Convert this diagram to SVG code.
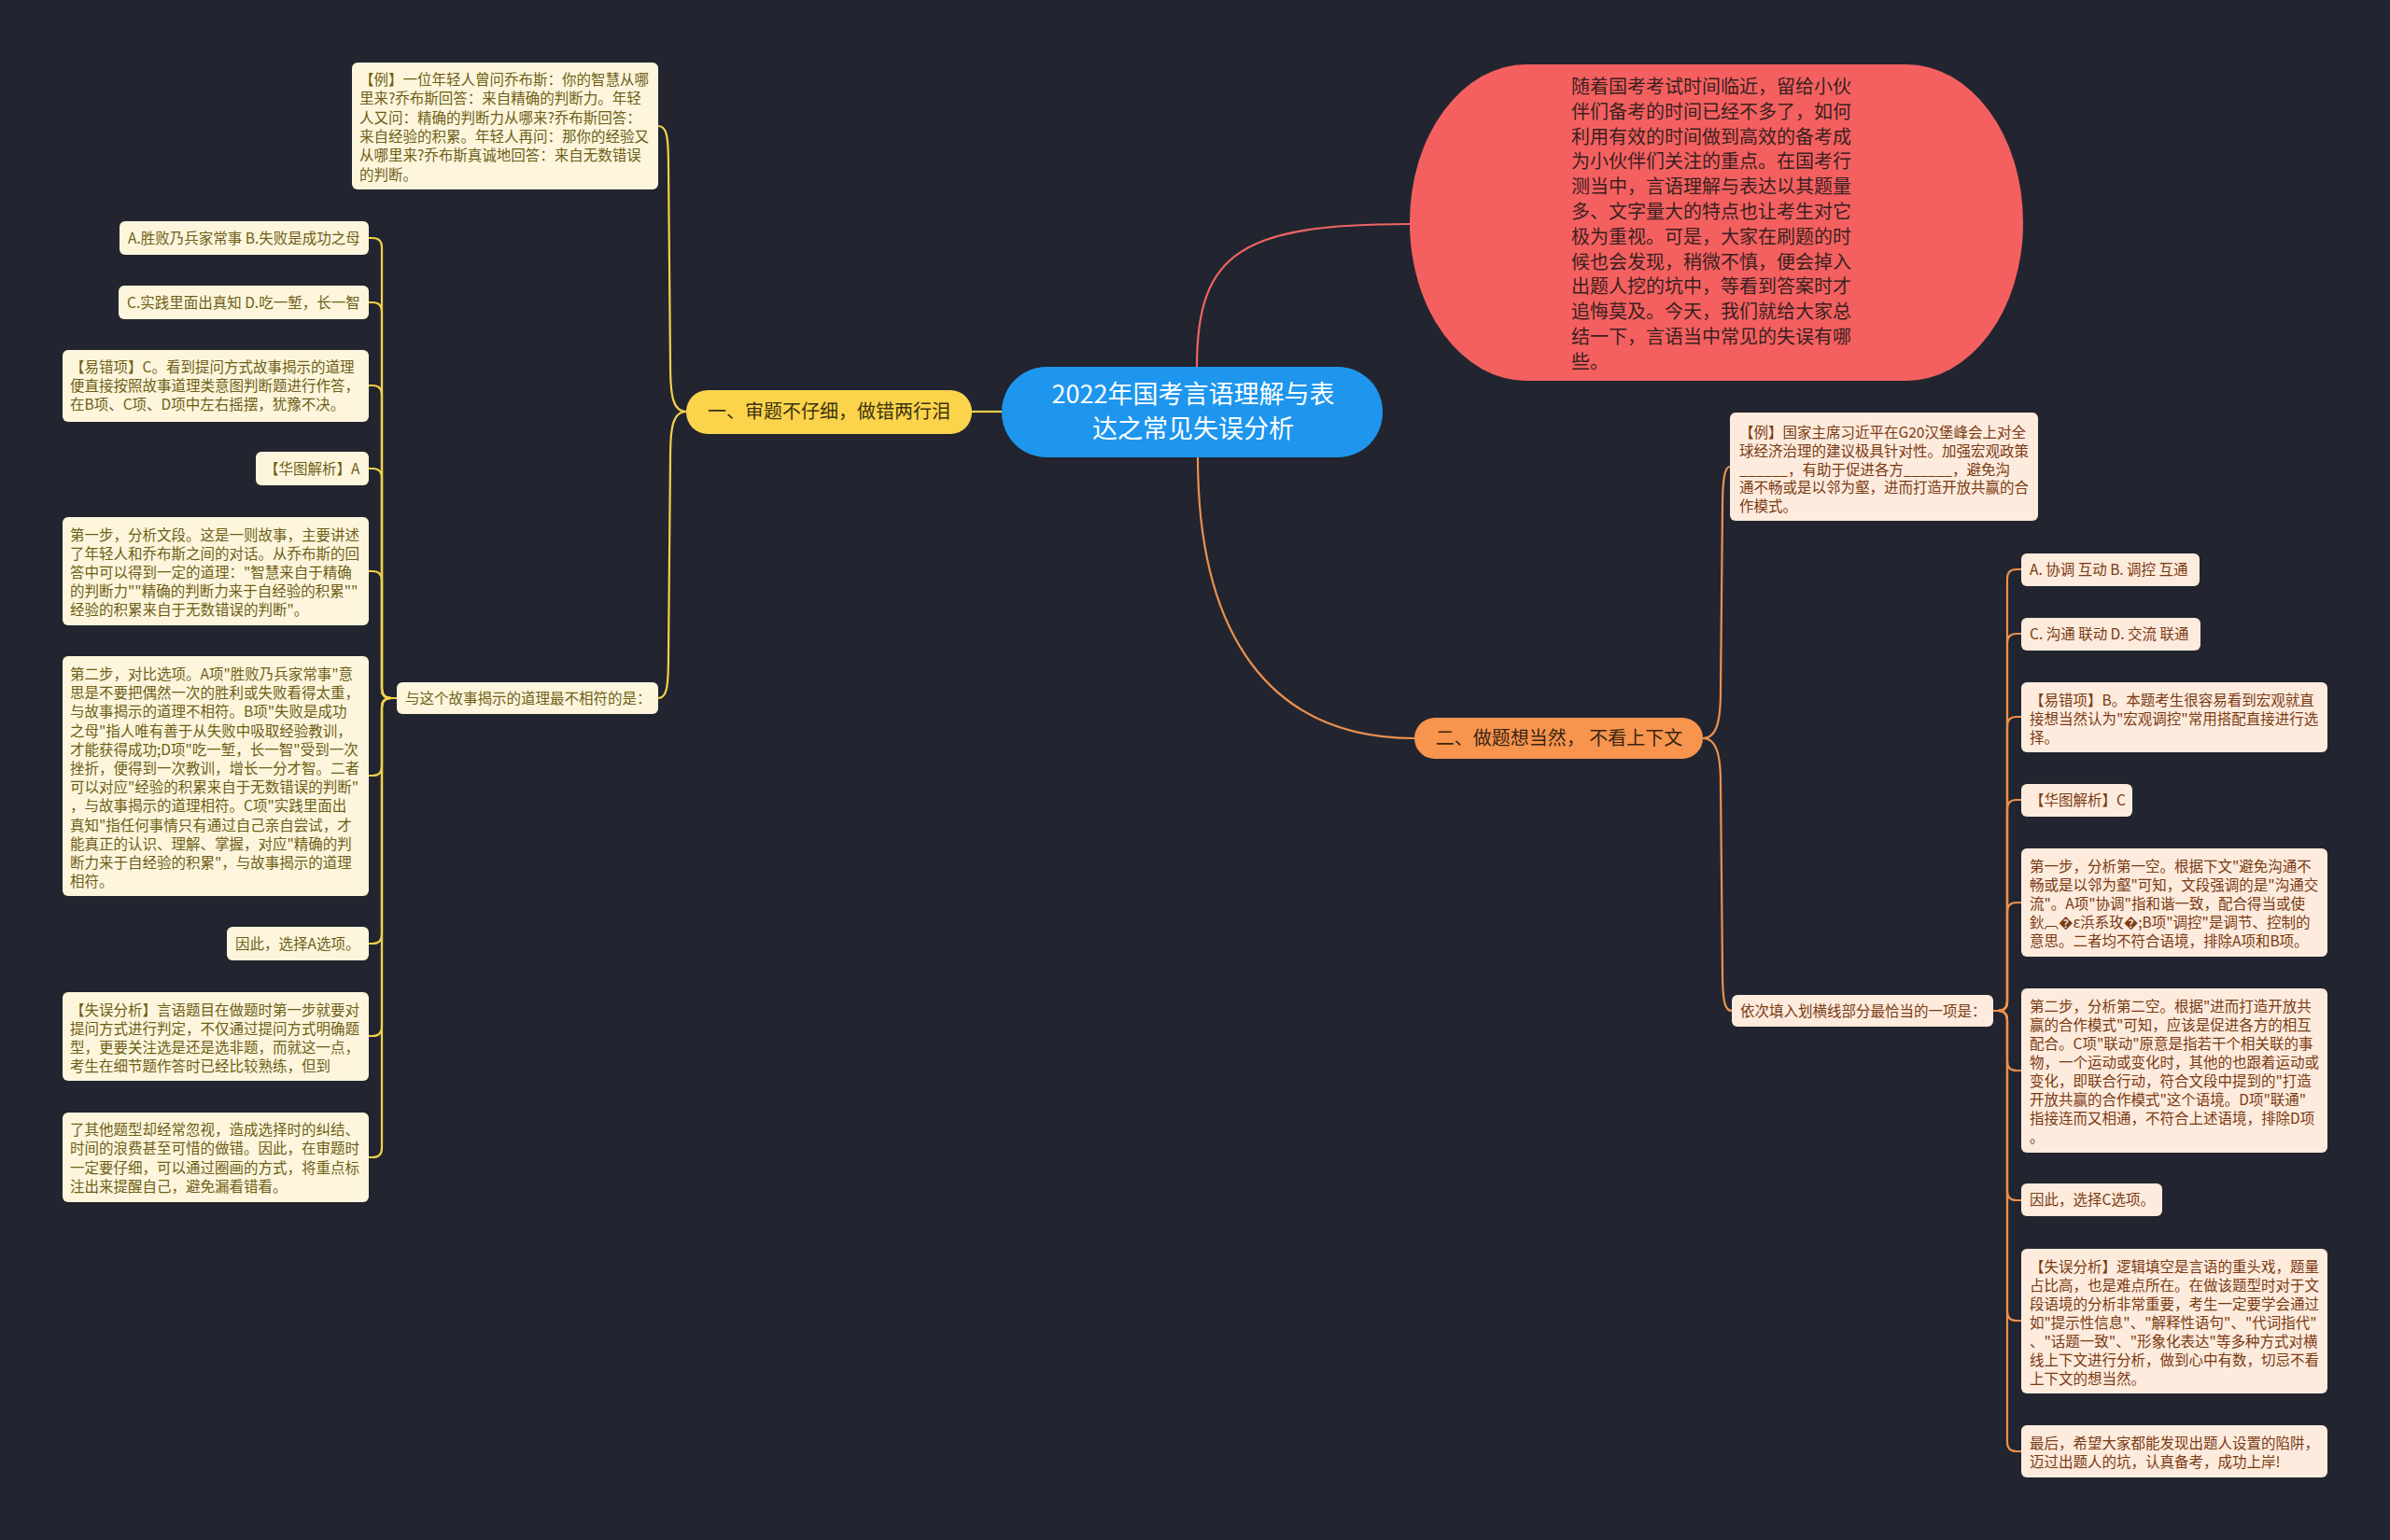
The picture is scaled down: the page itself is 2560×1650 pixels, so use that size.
<svg xmlns="http://www.w3.org/2000/svg" width="2560" height="1650" viewBox="0 0 2560 1650">
<style>
text{font-family:"Noto Sans CJK SC","Noto Sans",sans-serif}
.lb{fill:#fdf6dd}
.rb{fill:#fdebdd}
.lt{font-size:15.5px;fill:#6f5e16}
.rt{font-size:15.5px;fill:#7b3a12}
.yl{fill:none;stroke:#f3d04a;stroke-width:2.2}
.ol{fill:none;stroke:#ec904f;stroke-width:2.2}
.rl{fill:none;stroke:#f06464;stroke-width:2.2}
</style>
<rect width="2560" height="1650" fill="#22252f"/>
<g id="connectors">
<path class="rl" d="M1282 393 C1282 270 1330 240 1510 240"/>
<path class="ol" d="M1283 490 C1283 680 1360 791 1515 791"/>
<path class="yl" d="M1073 441 H1041"/>
<path class="yl" d="M735 441 C721 441 718 425 718 390 L716 180 C716 145 714 135 705 135"/>
<path class="yl" d="M735 441 C721 441 718 457 718 490 L716 700 C716 738 714 748 705 748"/>
<path class="ol" d="M1824 791 C1838 791 1843 775 1843 740 L1845 545 C1845 510 1848 500 1853 500"/>
<path class="ol" d="M1824 791 C1838 791 1843 807 1843 840 L1845 1040 C1845 1075 1848 1083 1855 1083"/>
<path class="yl" d="M425 748 H419 Q409 748 409 738 V265 Q409 255 399 255 H395"/>
<path class="yl" d="M425 748 H419 Q409 748 409 738 V334 Q409 324 399 324 H395"/>
<path class="yl" d="M425 748 H419 Q409 748 409 738 V423 Q409 413 399 413 H395"/>
<path class="yl" d="M425 748 H419 Q409 748 409 738 V512 Q409 502 399 502 H395"/>
<path class="yl" d="M425 748 H419 Q409 748 409 738 V622 Q409 612 399 612 H395"/>
<path class="yl" d="M425 748 H419 Q409 748 409 758 V821 Q409 831 399 831 H395"/>
<path class="yl" d="M425 748 H419 Q409 748 409 758 V1001 Q409 1011 399 1011 H395"/>
<path class="yl" d="M425 748 H419 Q409 748 409 758 V1100 Q409 1110 399 1110 H395"/>
<path class="yl" d="M425 748 H419 Q409 748 409 758 V1230 Q409 1240 399 1240 H395"/>
<path class="ol" d="M2135 1083 H2140 Q2150 1083 2150 1073 V620 Q2150 610 2160 610 H2165"/>
<path class="ol" d="M2135 1083 H2140 Q2150 1083 2150 1073 V689 Q2150 679 2160 679 H2165"/>
<path class="ol" d="M2135 1083 H2140 Q2150 1083 2150 1073 V778 Q2150 768 2160 768 H2165"/>
<path class="ol" d="M2135 1083 H2140 Q2150 1083 2150 1073 V867 Q2150 857 2160 857 H2165"/>
<path class="ol" d="M2135 1083 H2140 Q2150 1083 2150 1073 V977 Q2150 967 2160 967 H2165"/>
<path class="ol" d="M2135 1083 H2140 Q2150 1083 2150 1093 V1137 Q2150 1147 2160 1147 H2165"/>
<path class="ol" d="M2135 1083 H2140 Q2150 1083 2150 1093 V1276 Q2150 1286 2160 1286 H2165"/>
<path class="ol" d="M2135 1083 H2140 Q2150 1083 2150 1093 V1405 Q2150 1415 2160 1415 H2165"/>
<path class="ol" d="M2135 1083 H2140 Q2150 1083 2150 1093 V1545 Q2150 1555 2160 1555 H2165"/>
</g>
<g id="root">
<rect x="1073" y="393" width="408" height="97" rx="48" fill="#1e96ee"/>
<text x="1278" y="432" font-size="27" fill="#ffffff" text-anchor="middle">2022年国考言语理解与表</text>
<text x="1278" y="469" font-size="27" fill="#ffffff" text-anchor="middle">达之常见失误分析</text>
</g>
<g id="intro">
<rect x="1510" y="69" width="657" height="339" rx="125" ry="169" fill="#f46060"/>
<text font-size="20" fill="#3a2020"><tspan x="1683" y="100">随着国考考试时间临近，留给小伙</tspan><tspan x="1683" dy="26.8">伴们备考的时间已经不多了，如何</tspan><tspan x="1683" dy="26.8">利用有效的时间做到高效的备考成</tspan><tspan x="1683" dy="26.8">为小伙伴们关注的重点。在国考行</tspan><tspan x="1683" dy="26.8">测当中，言语理解与表达以其题量</tspan><tspan x="1683" dy="26.8">多、文字量大的特点也让考生对它</tspan><tspan x="1683" dy="26.8">极为重视。可是，大家在刷题的时</tspan><tspan x="1683" dy="26.8">候也会发现，稍微不慎，便会掉入</tspan><tspan x="1683" dy="26.8">出题人挖的坑中，等看到答案时才</tspan><tspan x="1683" dy="26.8">追悔莫及。今天，我们就给大家总</tspan><tspan x="1683" dy="26.8">结一下，言语当中常见的失误有哪</tspan><tspan x="1683" dy="26.8">些。</tspan></text>
</g>
<g id="branch1">
<rect x="735" y="418" width="306" height="47" rx="23" fill="#fbd44b"/>
<text x="888" y="448" font-size="20" fill="#3b3210" text-anchor="middle">一、审题不仔细，做错两行泪</text>
</g>
<g id="branch2">
<rect x="1515" y="769" width="309" height="44" rx="22" fill="#f7944e"/>
<text x="1670" y="798" font-size="20" fill="#3a2410" text-anchor="middle">二、做题想当然， 不看上下文</text>
</g>
<g id="l-example">
<rect class="lb" x="377" y="67" width="328" height="136" rx="6"/>
<text class="lt"><tspan x="385" y="91">【例】一位年轻人曾问乔布斯：你的智慧从哪</tspan><tspan x="385" dy="20.3">里来?乔布斯回答：来自精确的判断力。年轻</tspan><tspan x="385" dy="20.3">人又问：精确的判断力从哪来?乔布斯回答：</tspan><tspan x="385" dy="20.3">来自经验的积累。年轻人再问：那你的经验又</tspan><tspan x="385" dy="20.3">从哪里来?乔布斯真诚地回答：来自无数错误</tspan><tspan x="385" dy="20.3">的判断。</tspan></text>
</g>
<g id="l-question">
<rect class="lb" x="425" y="731" width="280" height="34" rx="6"/>
<text class="lt" x="434" y="753.5">与这个故事揭示的道理最不相符的是：</text>
</g>
<g id="l1">
<rect class="lb" x="128" y="237" width="267" height="36" rx="6"/>
<text class="lt" x="137" y="260.5">A.胜败乃兵家常事 B.失败是成功之母</text>
</g>
<g id="l2">
<rect class="lb" x="127" y="306" width="268" height="36" rx="6"/>
<text class="lt" x="136" y="329.5">C.实践里面出真知 D.吃一堑，长一智</text>
</g>
<g id="l3">
<rect class="lb" x="67" y="375" width="328" height="77" rx="6"/>
<text class="lt"><tspan x="75" y="399">【易错项】C。看到提问方式故事揭示的道理</tspan><tspan x="75" dy="20">便直接按照故事道理类意图判断题进行作答，</tspan><tspan x="75" dy="20">在B项、C项、D项中左右摇摆，犹豫不决。</tspan></text>
</g>
<g id="l4">
<rect class="lb" x="274" y="484" width="121" height="36" rx="6"/>
<text class="lt" x="283" y="507.5">【华图解析】A</text>
</g>
<g id="l5">
<rect class="lb" x="67" y="554" width="328" height="116" rx="6"/>
<text class="lt"><tspan x="75" y="579">第一步，分析文段。这是一则故事，主要讲述</tspan><tspan x="75" dy="20">了年轻人和乔布斯之间的对话。从乔布斯的回</tspan><tspan x="75" dy="20">答中可以得到一定的道理："智慧来自于精确</tspan><tspan x="75" dy="20">的判断力""精确的判断力来于自经验的积累""</tspan><tspan x="75" dy="20">经验的积累来自于无数错误的判断"。</tspan></text>
</g>
<g id="l6">
<rect class="lb" x="67" y="703" width="328" height="257" rx="6"/>
<text class="lt"><tspan x="75" y="728">第二步，对比选项。A项"胜败乃兵家常事"意</tspan><tspan x="75" dy="20.2">思是不要把偶然一次的胜利或失败看得太重，</tspan><tspan x="75" dy="20.2">与故事揭示的道理不相符。B项"失败是成功</tspan><tspan x="75" dy="20.2">之母"指人唯有善于从失败中吸取经验教训，</tspan><tspan x="75" dy="20.2">才能获得成功;D项"吃一堑，长一智"受到一次</tspan><tspan x="75" dy="20.2">挫折，便得到一次教训，增长一分才智。二者</tspan><tspan x="75" dy="20.2">可以对应"经验的积累来自于无数错误的判断"</tspan><tspan x="75" dy="20.2">，与故事揭示的道理相符。C项"实践里面出</tspan><tspan x="75" dy="20.2">真知"指任何事情只有通过自己亲自尝试，才</tspan><tspan x="75" dy="20.2">能真正的认识、理解、掌握，对应"精确的判</tspan><tspan x="75" dy="20.2">断力来于自经验的积累"，与故事揭示的道理</tspan><tspan x="75" dy="20.2">相符。</tspan></text>
</g>
<g id="l7">
<rect class="lb" x="243" y="993" width="152" height="36" rx="6"/>
<text class="lt" x="252" y="1016.5">因此，选择A选项。</text>
</g>
<g id="l8">
<rect class="lb" x="67" y="1063" width="328" height="95" rx="6"/>
<text class="lt"><tspan x="75" y="1087.5">【失误分析】言语题目在做题时第一步就要对</tspan><tspan x="75" dy="20">提问方式进行判定，不仅通过提问方式明确题</tspan><tspan x="75" dy="20">型，更要关注选是还是选非题，而就这一点，</tspan><tspan x="75" dy="20">考生在细节题作答时已经比较熟练，但到</tspan></text>
</g>
<g id="l9">
<rect class="lb" x="67" y="1192" width="328" height="96" rx="6"/>
<text class="lt"><tspan x="75" y="1216">了其他题型却经常忽视，造成选择时的纠结、</tspan><tspan x="75" dy="20.3">时间的浪费甚至可惜的做错。因此，在审题时</tspan><tspan x="75" dy="20.3">一定要仔细，可以通过圈画的方式，将重点标</tspan><tspan x="75" dy="20.3">注出来提醒自己，避免漏看错看。</tspan></text>
</g>
<g id="r-example">
<rect class="rb" x="1853" y="442" width="330" height="116" rx="6"/>
<text class="rt"><tspan x="1863" y="469">【例】国家主席习近平在G20汉堡峰会上对全</tspan><tspan x="1863" dy="19.8">球经济治理的建议极具针对性。加强宏观政策</tspan><tspan x="1863" dy="19.8">______，有助于促进各方______，避免沟</tspan><tspan x="1863" dy="19.8">通不畅或是以邻为壑，进而打造开放共赢的合</tspan><tspan x="1863" dy="19.8">作模式。</tspan></text>
</g>
<g id="r-question">
<rect class="rb" x="1855" y="1066" width="280" height="34" rx="6"/>
<text class="rt" x="1864" y="1088.5">依次填入划横线部分最恰当的一项是：</text>
</g>
<g id="r1">
<rect class="rb" x="2165" y="593" width="191" height="35" rx="6"/>
<text class="rt" x="2174" y="616">A. 协调 互动 B. 调控 互通</text>
</g>
<g id="r2">
<rect class="rb" x="2165" y="662" width="192" height="35" rx="6"/>
<text class="rt" x="2174" y="685">C. 沟通 联动 D. 交流 联通</text>
</g>
<g id="r3">
<rect class="rb" x="2165" y="731" width="328" height="75" rx="6"/>
<text class="rt"><tspan x="2174" y="755.5">【易错项】B。本题考生很容易看到宏观就直</tspan><tspan x="2174" dy="20">接想当然认为"宏观调控"常用搭配直接进行选</tspan><tspan x="2174" dy="20">择。</tspan></text>
</g>
<g id="r4">
<rect class="rb" x="2165" y="840" width="119" height="35" rx="6"/>
<text class="rt" x="2174" y="863">【华图解析】C</text>
</g>
<g id="r5">
<rect class="rb" x="2165" y="909" width="328" height="116" rx="6"/>
<text class="rt"><tspan x="2174" y="934">第一步，分析第一空。根据下文"避免沟通不</tspan><tspan x="2174" dy="20">畅或是以邻为壑"可知，文段强调的是"沟通交</tspan><tspan x="2174" dy="20">流"。A项"协调"指和谐一致，配合得当或使</tspan><tspan x="2174" dy="20">鈥︹�ε浜系玫�;B项"调控"是调节、控制的</tspan><tspan x="2174" dy="20">意思。二者均不符合语境，排除A项和B项。</tspan></text>
</g>
<g id="r6">
<rect class="rb" x="2165" y="1059" width="328" height="176" rx="6"/>
<text class="rt"><tspan x="2174" y="1084">第二步，分析第二空。根据"进而打造开放共</tspan><tspan x="2174" dy="20">赢的合作模式"可知，应该是促进各方的相互</tspan><tspan x="2174" dy="20">配合。C项"联动"原意是指若干个相关联的事</tspan><tspan x="2174" dy="20">物，一个运动或变化时，其他的也跟着运动或</tspan><tspan x="2174" dy="20">变化，即联合行动，符合文段中提到的"打造</tspan><tspan x="2174" dy="20">开放共赢的合作模式"这个语境。D项"联通"</tspan><tspan x="2174" dy="20">指接连而又相通，不符合上述语境，排除D项</tspan><tspan x="2174" dy="20">。</tspan></text>
</g>
<g id="r7">
<rect class="rb" x="2165" y="1268" width="151" height="35" rx="6"/>
<text class="rt" x="2174" y="1291">因此，选择C选项。</text>
</g>
<g id="r8">
<rect class="rb" x="2165" y="1338" width="328" height="155" rx="6"/>
<text class="rt"><tspan x="2174" y="1363">【失误分析】逻辑填空是言语的重头戏，题量</tspan><tspan x="2174" dy="20">占比高，也是难点所在。在做该题型时对于文</tspan><tspan x="2174" dy="20">段语境的分析非常重要，考生一定要学会通过</tspan><tspan x="2174" dy="20">如"提示性信息"、"解释性语句"、"代词指代"</tspan><tspan x="2174" dy="20">、"话题一致"、"形象化表达"等多种方式对横</tspan><tspan x="2174" dy="20">线上下文进行分析，做到心中有数，切忌不看</tspan><tspan x="2174" dy="20">上下文的想当然。</tspan></text>
</g>
<g id="r9">
<rect class="rb" x="2165" y="1527" width="328" height="56" rx="6"/>
<text class="rt"><tspan x="2174" y="1552">最后，希望大家都能发现出题人设置的陷阱，</tspan><tspan x="2174" dy="20">迈过出题人的坑，认真备考，成功上岸!</tspan></text>
</g>
</svg>
